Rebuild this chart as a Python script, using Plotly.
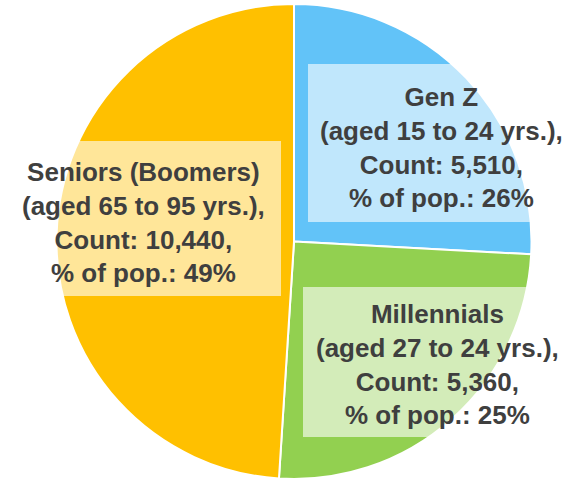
import plotly.graph_objects as go

groups = ["Gen Z", "Millennials", "Seniors (Boomers)"]
ages = ["aged 15 to 24 yrs.", "aged 27 to 24 yrs.", "aged 65 to 95 yrs."]
counts = [5510, 5360, 10440]
pct_labels = [26, 25, 49]
colors = ["#62C3F8", "#92D050", "#FFC000"]

W, H = 580, 481

fig = go.Figure()
fig.add_trace(go.Pie(
    labels=groups,
    values=counts,
    sort=False,
    direction="clockwise",
    rotation=0,
    marker=dict(colors=colors, line=dict(color="white", width=2)),
    textinfo="none",
    hoverinfo="label+value+percent",
    showlegend=False,
    domain=dict(x=[55 / W, 533 / W], y=[2 / H, 1 - 4 / H]),
))

# label boxes (pixel coords: x0, y0, x1, y1) and text centres
boxes = [
    (308, 64, 576, 222),
    (303, 287, 572, 437),
    (5, 141, 281, 296),
]
centres = [(441, 147), (437, 364), (143, 222)]

def px(x):
    return x / W

def py(y):
    return 1 - y / H

for i, (x0, y0, x1, y1) in enumerate(boxes):
    fig.add_shape(type="rect", xref="paper", yref="paper",
                  x0=px(x0), x1=px(x1), y0=py(y1), y1=py(y0),
                  fillcolor="rgba(255,255,255,0.6)", line=dict(width=0),
                  layer="above")
    txt = (f"<b>{groups[i]}<br>({ages[i]}),<br>Count: {counts[i]:,},"
           f"<br>% of pop.: {pct_labels[i]}%</b>")
    cx, cy = centres[i]
    fig.add_annotation(x=px(cx), y=py(cy),
                       xref="paper", yref="paper", text=txt,
                       showarrow=False, align="center",
                       xanchor="center", yanchor="middle",
                       font=dict(family="Liberation Sans, Arial", size=26,
                                 color="#3F3F3F"))

fig.update_layout(width=W, height=H, margin=dict(l=0, r=0, t=0, b=0),
                  paper_bgcolor="white", plot_bgcolor="white")

fig.write_html("out.html")
